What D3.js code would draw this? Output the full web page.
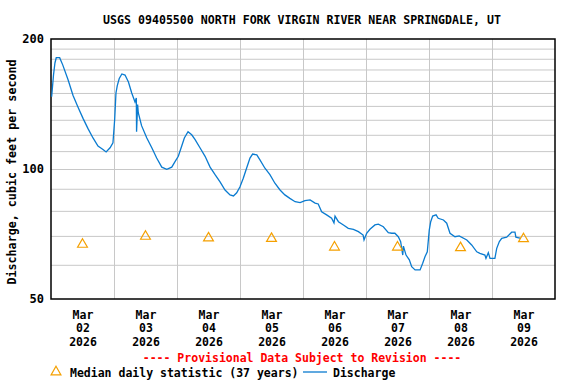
<!DOCTYPE html>
<html>
<head>
<meta charset="utf-8">
<script src="https://cdn.jsdelivr.net/npm/d3@7"></script>
<style>
  body { margin: 0; background: #fff; }
  text { font-family: "DejaVu Sans Mono", monospace; font-weight: bold; }
</style>
</head>
<body>
<svg></svg>
<script>
// discharge readings, hours after Mar 02 2026 00:00
const hours = [0.25, 0.95, 1.5, 2.0, 3.3, 4.5, 6.5, 8.4, 10.3, 12.2, 14.1, 16.0, 17.9, 19.8, 21.0, 22.5, 23.6,
  24.25, 24.75, 25.25, 26.0, 27.0, 28.2, 29.5, 30.75, 32.0, 32.5, 32.6, 33.0, 33.25, 34.5, 36.5, 38.4, 40.25,
  42.2, 44.1, 46.0, 47.25, 48.5, 49.8, 50.8, 52.2, 53.6, 54.9, 56.75, 58.7, 60.6, 62.5, 64.4, 66.3, 68.2, 69.5,
  70.75, 72.0, 73.25, 74.5, 75.8, 76.8, 78.4, 79.6, 81.5, 83.4, 85.3, 87.25, 89.1, 91.0, 93.0, 94.9, 96.75,
  98.7, 100.6, 101.8, 103.1, 105.0, 106.9, 107.8, 108.2, 109.5, 111.4, 113.25, 115.2, 117.1, 118.9, 119.25,
  120.25, 121.5, 123.4, 124.7, 126.6, 128.5, 129.8, 131.0, 132.3, 133.2, 134.0, 134.25, 135.25, 136.5, 137.4,
  138.7, 140.6, 141.6, 142.5, 143.35, 144.1, 144.65, 145.4, 146.7, 147.5, 149.5, 150.75, 152.0, 153.9, 155.5,
  158.4, 160.25, 162.2, 163.4, 165.3, 165.7, 166.6, 167.25, 169.1, 169.8, 170.8, 171.7, 173.6, 175.5, 176.75,
  177.1, 179.0]
const discharge = [147, 165, 176, 181, 181, 174, 161, 148, 139, 131, 124, 118, 113, 111, 109.5, 112, 115,
  130, 150, 156, 162, 166, 165, 159, 150, 143, 146, 122, 141, 135, 126, 118, 112, 106,
  101, 99.8, 101, 104, 107, 113, 118, 122, 120, 117, 112, 107, 101, 97, 93.4, 89.4, 87.1, 86.6,
  88.1, 91, 95.2, 100.4, 106, 108.3, 107.8, 105, 100.4, 97, 92.7, 89.4, 87.1, 85.5, 84, 83.6, 84.5,
  84.8, 83.4, 83, 79.6, 78.3, 76.9, 75, 77.8, 75.5, 74.2, 72.9, 72.5, 71.6, 70.3, 68.5,
  71, 72.5, 74.2, 74.5, 73.5, 71.2, 71, 71, 69.7, 67.9, 63.2, 66.3, 63.2, 61.6, 59.4,
  58.4, 58.4, 60.5, 62.7, 64.3, 72.2, 75.5, 77.8, 78.3, 76.9, 76.2, 74.9, 71, 69.7, 70,
  68.5, 66.7, 64.3, 63.8, 63.2, 62.1, 64, 62.1, 62.1, 65.5, 67.9, 69.1, 69.5, 71.4, 71.4,
  69.5, 69.1]

const medianDays = ["2026-03-02", "2026-03-03", "2026-03-04", "2026-03-05", "2026-03-06", "2026-03-07", "2026-03-08", "2026-03-09"]
const medianValues = [66.9, 69.8, 69.2, 69.0, 65.9, 65.9, 65.7, 68.9]

const yTicks = [50, 100, 200]
const yGrid = [60, 70, 80, 90, 110, 120, 130, 140, 150, 160, 170, 180, 190]

const title = "USGS 09405500 NORTH FORK VIRGIN RIVER NEAR SPRINGDALE, UT"

let width = 576
let height = 384
let padLeft = 51, padRight = 555, padTop = 39, padBottom = 299

let svg = d3.select("svg").attr("width", width).attr("height", height)

let start = new Date(2026, 2, 2)
let xScale = d3.scaleTime()
  .domain([start, new Date(2026, 2, 10)])
  .range([padLeft, padRight])
let yScale = d3.scaleLog()
  .domain([50, 200])
  .range([padBottom, padTop])

let hourDate = (h) => new Date(start.getTime() + h * 3600 * 1000)
let noon = (s) => new Date(s + "T12:00:00")

// grid lines
svg.append("g")
  .attr("transform", "translate(" + padLeft + ",0)")
  .call(d3.axisLeft(yScale).tickValues(yGrid.concat([100])).tickSize(-(padRight - padLeft)).tickFormat(""))
  .call(g => g.select(".domain").remove())
  .call(g => g.selectAll("line").attr("stroke", "#c8c8c8"))

let dayLines = d3.range(1, 8).map(i => new Date(2026, 2, 2 + i))
svg.append("g")
  .attr("transform", "translate(0," + padBottom + ")")
  .call(d3.axisBottom(xScale).tickValues(dayLines).tickSize(-(padBottom - padTop)).tickFormat(""))
  .call(g => g.select(".domain").remove())
  .call(g => g.selectAll("line").attr("stroke", "#c8c8c8"))

// frame
svg.append("rect")
  .attr("x", padLeft).attr("y", padTop)
  .attr("width", padRight - padLeft).attr("height", padBottom - padTop)
  .attr("fill", "none").attr("stroke", "#000").attr("stroke-width", 1.5)

// discharge line
let series = hours.map((h, i) => [hourDate(h), discharge[i]])
svg.append("path")
  .datum(series)
  .attr("fill", "none")
  .attr("stroke", "#0a7bd0")
  .attr("stroke-width", 1.3)
  .attr("d", d3.line().x(d => xScale(d[0])).y(d => yScale(d[1])))

// median markers
let tri = d3.symbol().type(d3.symbolTriangle).size(42)
svg.selectAll(".median")
  .data(medianDays)
  .enter()
  .append("path")
  .attr("class", "median")
  .attr("d", tri)
  .attr("transform", (d, i) => "translate(" + xScale(noon(d)) + "," + yScale(medianValues[i]) + ")")
  .attr("fill", "none")
  .attr("stroke", "#f5a000")
  .attr("stroke-width", 1.2)

// y axis labels
svg.append("g")
  .attr("transform", "translate(" + padLeft + ",0)")
  .call(d3.axisLeft(yScale).tickValues(yTicks).tickSize(0).tickPadding(7).tickFormat(d3.format("d")))
  .call(g => g.select(".domain").remove())
  .call(g => g.selectAll("text").attr("font-size", 12).attr("fill", "#000")
    .style("font-family", "DejaVu Sans Mono").style("font-weight", "bold"))

// x axis labels
let xAxis = svg.append("g")
  .attr("transform", "translate(0," + padBottom + ")")
  .call(d3.axisBottom(xScale).tickValues(medianDays.map(noon)).tickSize(0).tickFormat(""))
xAxis.select(".domain").remove()
xAxis.selectAll(".tick text")
  .attr("y", 0)
  .attr("dy", null)
  .style("font-family", "DejaVu Sans Mono").style("font-weight", "bold")
  .attr("font-size", 11.5).attr("fill", "#000")
  .each(function (d) {
    let t = d3.select(this)
    let parts = [d3.timeFormat("%b")(d), d3.timeFormat("%d")(d), d3.timeFormat("%Y")(d)]
    parts.forEach((p, k) => {
      t.append("tspan").attr("x", 0).attr("y", 19.5 + k * 13.5).text(p)
    })
  })

// title
svg.append("text")
  .attr("x", 302).attr("y", 24)
  .attr("text-anchor", "middle")
  .attr("font-size", 11.6)
  .text(title)

// y label
svg.append("text")
  .attr("transform", "translate(16,172) rotate(-90)")
  .attr("text-anchor", "middle")
  .attr("font-size", 11.7)
  .text("Discharge, cubic feet per second")

// provisional note
svg.append("text")
  .attr("x", 302).attr("y", 362)
  .attr("text-anchor", "middle")
  .attr("font-size", 11.5)
  .attr("fill", "#ff0000")
  .text("---- Provisional Data Subject to Revision ----")

// legend
svg.append("path")
  .attr("d", tri)
  .attr("transform", "translate(56,372)")
  .attr("fill", "none").attr("stroke", "#f5a000").attr("stroke-width", 1.2)
svg.append("text")
  .attr("x", 70).attr("y", 377)
  .attr("font-size", 11.5)
  .text("Median daily statistic (37 years)")
svg.append("line")
  .attr("x1", 303).attr("x2", 327).attr("y1", 372).attr("y2", 372)
  .attr("stroke", "#0a7bd0").attr("stroke-width", 1.3)
svg.append("text")
  .attr("x", 333).attr("y", 377)
  .attr("font-size", 11.5)
  .text("Discharge")
</script>
</body>
</html>
